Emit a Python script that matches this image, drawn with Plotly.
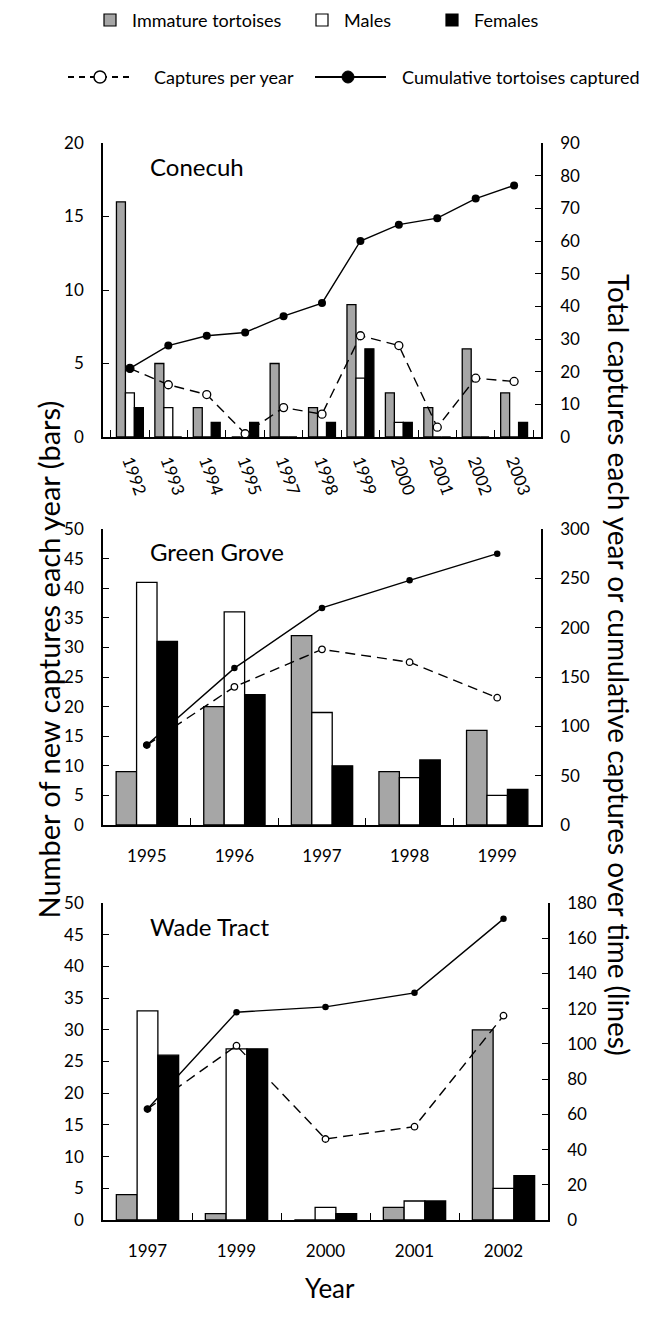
import plotly.graph_objects as go

# page body keeps an 8px margin, so the figure fills the window inside it
OFF = 8
W, H = 660 - 2 * OFF, 1321 - 2 * OFF
FONT = "Lato"

# ---------------- data ----------------
con_years = ["1992", "1993", "1994", "1995", "1997", "1998", "1999", "2000", "2001", "2002", "2003"]
con_immature = [16, 5, 2, 0, 5, 2, 9, 3, 2, 6, 3]
con_males = [3, 2, 0, 0, 0, 0, 4, 1, 0, 0, 0]
con_females = [2, 0, 1, 1, 0, 1, 6, 1, 0, 0, 1]
con_per_year = [21, 16, 13, 1, 9, 7, 31, 28, 3, 18, 17]
con_cumulative = [21, 28, 31, 32, 37, 41, 60, 65, 67, 73, 77]

gg_years = ["1995", "1996", "1997", "1998", "1999"]
gg_immature = [9, 20, 32, 9, 16]
gg_males = [41, 36, 19, 8, 5]
gg_females = [31, 22, 10, 11, 6]
gg_per_year = [81, 140, 178, 165, 129]
gg_cumulative = [81, 159, 220, 248, 275]

wt_years = ["1997", "1999", "2000", "2001", "2002"]
wt_immature = [4, 1, 0, 2, 30]
wt_males = [33, 27, 2, 3, 5]
wt_females = [26, 27, 1, 3, 7]
wt_per_year = [63, 99, 46, 53, 116]
wt_cumulative = [63, 118, 121, 129, 171]

panels = [
    dict(name="Conecuh", years=con_years, imm=con_immature, mal=con_males, fem=con_females,
         per=con_per_year, cum=con_cumulative, top=143, bot=437, left=103, right=541,
         lmax=20, ldt=5, rmax=90, rdt=10, angle=70, msize=8),
    dict(name="Green Grove", years=gg_years, imm=gg_immature, mal=gg_males, fem=gg_females,
         per=gg_per_year, cum=gg_cumulative, top=529, bot=825, left=103, right=541,
         lmax=50, ldt=5, rmax=300, rdt=50, angle=0, msize=6.5),
    dict(name="Wade Tract", years=wt_years, imm=wt_immature, mal=wt_males, fem=wt_females,
         per=wt_per_year, cum=wt_cumulative, top=903, bot=1220, left=103, right=548,
         lmax=50, ldt=5, rmax=180, rdt=20, angle=0, msize=6.5),
]

GRAY = "#a6a6a6"
fig = go.Figure()
layout = {}
annotations = []
shapes = []

def px(x):
    return (x - OFF) / W

def py(y):
    return 1 - (y - OFF) / H

TICKF = dict(family=FONT, size=17, color="black")

for i, p in enumerate(panels):
    n = i + 1
    xa = "x" if n == 1 else f"x{n}"
    yl_id = 2 * n - 1
    yr_id = 2 * n
    yl = "y" if yl_id == 1 else f"y{yl_id}"
    yr = f"y{yr_id}"
    for vals, col in [(p["imm"], GRAY), (p["mal"], "white"), (p["fem"], "black")]:
        fig.add_trace(go.Bar(x=p["years"], y=vals, xaxis=xa, yaxis=yl,
                             marker=dict(color=col, line=dict(color="black", width=1.3)),
                             showlegend=False))
    fig.add_trace(go.Scatter(x=p["years"], y=p["per"], xaxis=xa, yaxis=yr, mode="lines+markers",
                             line=dict(color="black", width=1.4, dash="10px,6px"),
                             marker=dict(symbol="circle", size=p["msize"], color="white",
                                         line=dict(color="black", width=1.3)),
                             showlegend=False, cliponaxis=False))
    fig.add_trace(go.Scatter(x=p["years"], y=p["cum"], xaxis=xa, yaxis=yr, mode="lines+markers",
                             line=dict(color="black", width=1.4),
                             marker=dict(symbol="circle", size=p["msize"], color="black"),
                             showlegend=False, cliponaxis=False))
    xdom = [px(p["left"]), px(p["right"])]
    ydom = [py(p["bot"]), py(p["top"])]
    xkey = "xaxis" if n == 1 else f"xaxis{n}"
    ylkey = "yaxis" if yl_id == 1 else f"yaxis{yl_id}"
    yrkey = f"yaxis{yr_id}"
    layout[xkey] = dict(domain=xdom, anchor=yl, type="category", showline=True, automargin=False,
                        linecolor="black", linewidth=1.5, ticks="inside", tickson="boundaries",
                        ticklen=7, tickcolor="black", tickwidth=1.2, showgrid=False,
                        tickangle=p["angle"], tickfont=TICKF,
                        ticklabelstandoff=15 if p["angle"] == 0 else 6, fixedrange=True)
    layout[ylkey] = dict(domain=ydom, anchor=xa, range=[0, p["lmax"]], dtick=p["ldt"],
                         showline=True, linecolor="black", linewidth=1.5, ticks="inside",
                         ticklen=6, tickcolor="black", tickwidth=1.2, showgrid=False,
                         zeroline=False, tickfont=TICKF, automargin=False,
                         ticklabelstandoff=14)
    layout[yrkey] = dict(domain=ydom, anchor=xa, overlaying=yl, side="right",
                         range=[0, p["rmax"]], dtick=p["rdt"], showline=True, linecolor="black",
                         linewidth=1.5, ticks="inside", ticklen=6, tickcolor="black",
                         tickwidth=1.2, showgrid=False, zeroline=False, automargin=False,
                         tickfont=TICKF, ticklabelstandoff=14)
    annotations.append(dict(text=p["name"], x=px(148), y=py(p["top"] + 23), xref="paper",
                            yref="paper", xanchor="left", yanchor="middle", showarrow=False,
                            font=dict(family=FONT, size=24, color="black")))

# axis titles
annotations.append(dict(text="Number of new captures each year (bars)", x=px(28), y=py(660),
                        xref="paper", yref="paper", textangle=-90, showarrow=False,
                        font=dict(family=FONT, size=29, color="black")))
annotations.append(dict(text="Total captures each year or cumulative captures over time (lines)",
                        x=px(638), y=py(665), xref="paper", yref="paper", textangle=90,
                        showarrow=False, font=dict(family=FONT, size=28, color="black")))
annotations.append(dict(text="Year", x=px(330), y=py(1306), xref="paper", yref="paper",
                        showarrow=False, font=dict(family=FONT, size=26, color="black")))

# legend (drawn)
LF = dict(family=FONT, size=18, color="black")
ly1, ly2 = 20, 77
for x0, col, label in [(104, GRAY, "Immature tortoises"), (316, "white", "Males"), (446, "black", "Females")]:
    shapes.append(dict(type="rect", xref="paper", yref="paper", x0=px(x0), x1=px(x0 + 12),
                       y0=py(ly1 + 6), y1=py(ly1 - 6), fillcolor=col,
                       line=dict(color="black", width=1.2)))
    annotations.append(dict(text=label, x=px(x0 + 26), y=py(ly1), xref="paper", yref="paper",
                            xanchor="left", yanchor="middle", showarrow=False, font=LF))
shapes.append(dict(type="line", xref="paper", yref="paper", x0=px(68), x1=px(134),
                   y0=py(ly2), y1=py(ly2), line=dict(color="black", width=1.8, dash="6px,5px")))
shapes.append(dict(type="circle", xref="paper", yref="paper", x0=px(94), x1=px(106),
                   y0=py(ly2 + 6), y1=py(ly2 - 6), fillcolor="white",
                   line=dict(color="black", width=1.5)))
annotations.append(dict(text="Captures per year", x=px(152), y=py(ly2), xref="paper", yref="paper",
                        xanchor="left", yanchor="middle", showarrow=False, font=LF))
shapes.append(dict(type="line", xref="paper", yref="paper", x0=px(315), x1=px(386),
                   y0=py(ly2), y1=py(ly2), line=dict(color="black", width=2)))
shapes.append(dict(type="circle", xref="paper", yref="paper", x0=px(342), x1=px(354),
                   y0=py(ly2 + 6), y1=py(ly2 - 6), fillcolor="black",
                   line=dict(color="black", width=1)))
annotations.append(dict(text="Cumulative tortoises captured", x=px(400), y=py(ly2), xref="paper",
                        yref="paper", xanchor="left", yanchor="middle", showarrow=False, font=LF))

fig.update_layout(width=W, height=H, margin=dict(l=0, r=0, t=0, b=0, autoexpand=False),
                  paper_bgcolor="white", plot_bgcolor="white", barmode="group",
                  bargap=0.3, bargroupgap=0, showlegend=False,
                  annotations=annotations, shapes=shapes, **layout)
fig.write_html("out.html")
